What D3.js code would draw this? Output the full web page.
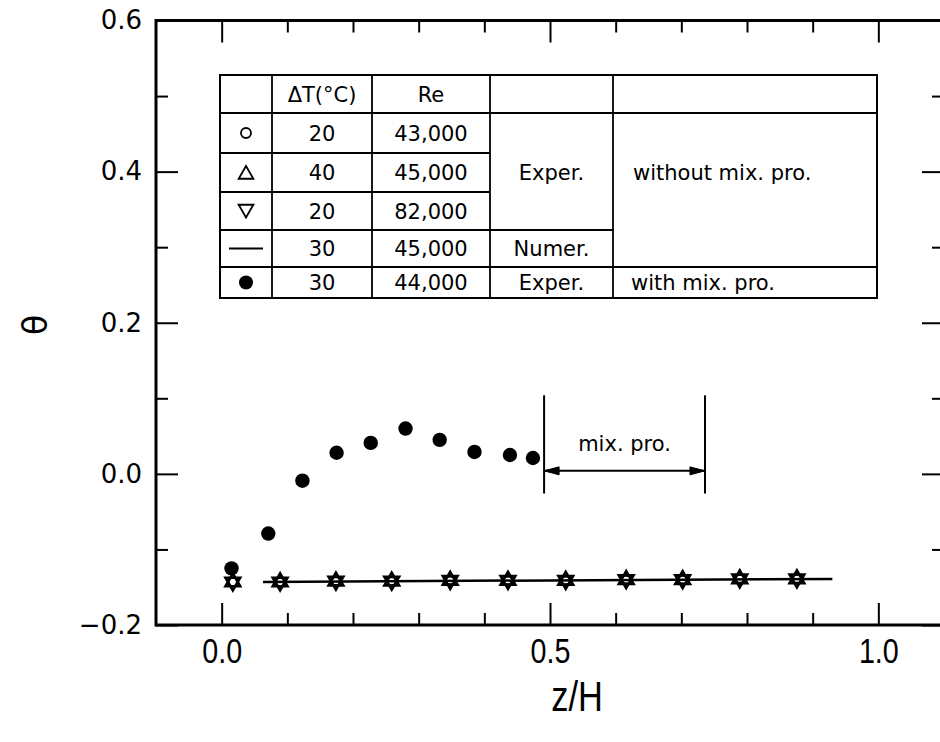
<!DOCTYPE html>
<html>
<head>
<meta charset="utf-8">
<script src="https://cdn.jsdelivr.net/npm/d3@7"></script>
<style>
  html, body { margin: 0; padding: 0; background: #fff; }
  svg { display: block; }
</style>
</head>
<body>
<svg id="chart" width="940" height="742"></svg>
<script>
// ---------------- data ----------------
// open markers (circle / up-triangle / down-triangle superimposed), experiments without mixing promoter
const openX = [0.017, 0.089, 0.174, 0.259, 0.348, 0.436, 0.524, 0.616, 0.702, 0.789, 0.876];
const openY = [-0.143, -0.143, -0.142, -0.142, -0.141, -0.141, -0.141, -0.140, -0.140, -0.139, -0.139];
// numerical result
const numX = [0.063, 0.930];
const numY = [-0.143, -0.139];
// filled dots, experiment with mixing promoter
const filledX = [0.015, 0.071, 0.123, 0.175, 0.227, 0.280, 0.332, 0.385, 0.439, 0.474];
const filledY = [-0.125, -0.079, -0.009, 0.028, 0.041, 0.060, 0.045, 0.029, 0.025, 0.021];
// mixing promoter region
const mixRange = [0.491, 0.736];
const mixBracketY = [0.104, -0.026];
const mixArrowY = 0.004;
const mixLabel = "mix. pro.";
// axes
const xDomain = [-0.1, 1.1];
const yDomain = [-0.2, 0.6];
const xMajor = [0.0, 0.5, 1.0];
const xMinor = [0.1, 0.2, 0.3, 0.4, 0.6, 0.7, 0.8, 0.9];
const yMajor = [-0.2, 0.0, 0.2, 0.4, 0.6];
const yMinor = [-0.1, 0.1, 0.3, 0.5];
const xTitle = "z/H";
const yTitle = "\u03B8";
// legend table
const tableHeader = ["", "\u0394T(\u00B0C)", "Re"];
const tableSymbols = ["circle", "up", "down", "line", "dot"];
const tableDT = ["20", "40", "20", "30", "30"];
const tableRe = ["43,000", "45,000", "82,000", "45,000", "44,000"];

// ---------------- layout ----------------
const svg = d3.select("#chart");
const x = d3.scaleLinear().domain(xDomain).range([156, 944]);
const y = d3.scaleLinear().domain(yDomain).range([625, 20.5]);

const fmt = d => (d < 0 ? "\u2212" : "") + Math.abs(d).toFixed(1);

// frame
svg.append("rect")
  .attr("x", x(xDomain[0])).attr("y", y(yDomain[1]))
  .attr("width", x(xDomain[1]) - x(xDomain[0]))
  .attr("height", y(yDomain[0]) - y(yDomain[1]))
  .attr("fill", "none").attr("stroke", "#000").attr("stroke-width", 3);

function styleAxis(g) {
  g.select(".domain").remove();
  g.selectAll(".tick line").attr("stroke", "#000").attr("stroke-width", 2);
}

// left axis
svg.append("g").attr("transform", `translate(${x(xDomain[0])},0)`)
  .call(d3.axisLeft(y).tickValues(yMajor).tickSize(-22).tickPadding(14).tickFormat(fmt))
  .call(styleAxis)
  .call(g => g.selectAll("text").attr("font-family", "DejaVu Sans").attr("font-size", 26).attr("fill", "#000"));
svg.append("g").attr("transform", `translate(${x(xDomain[0])},0)`)
  .call(d3.axisLeft(y).tickValues(yMinor).tickSize(-12).tickFormat(""))
  .call(styleAxis);
// right axis
svg.append("g").attr("transform", `translate(${x(xDomain[1])},0)`)
  .call(d3.axisRight(y).tickValues(yMajor).tickSize(-22).tickFormat(""))
  .call(styleAxis);
svg.append("g").attr("transform", `translate(${x(xDomain[1])},0)`)
  .call(d3.axisRight(y).tickValues(yMinor).tickSize(-12).tickFormat(""))
  .call(styleAxis);
// bottom axis
svg.append("g").attr("transform", `translate(0,${y(yDomain[0])})`)
  .call(d3.axisBottom(x).tickValues(xMajor).tickSize(-22).tickPadding(13).tickFormat(fmt))
  .call(styleAxis)
  .call(g => g.selectAll("text")
     .attr("font-family", "Liberation Sans, Arial, sans-serif").attr("font-size", 35)
     .attr("transform", "scale(0.82,1)").attr("fill", "#000"));
svg.append("g").attr("transform", `translate(0,${y(yDomain[0])})`)
  .call(d3.axisBottom(x).tickValues(xMinor).tickSize(-12).tickFormat(""))
  .call(styleAxis);
// top axis
svg.append("g").attr("transform", `translate(0,${y(yDomain[1])})`)
  .call(d3.axisTop(x).tickValues(xMajor).tickSize(-22).tickFormat(""))
  .call(styleAxis);
svg.append("g").attr("transform", `translate(0,${y(yDomain[1])})`)
  .call(d3.axisTop(x).tickValues(xMinor).tickSize(-12).tickFormat(""))
  .call(styleAxis);

// axis titles
svg.append("text")
  .attr("transform", "translate(577,711) scale(0.82,1)")
  .attr("text-anchor", "middle")
  .attr("font-family", "Liberation Sans, Arial, sans-serif").attr("font-size", 42)
  .text(xTitle);
svg.append("text")
  .attr("transform", "translate(47,325) rotate(-90)")
  .attr("text-anchor", "middle")
  .attr("font-family", "DejaVu Sans").attr("font-size", 33)
  .text(yTitle);

// ---------------- data marks ----------------
function triPath(cx, cy, R, dir) {
  // dir = 1 apex up, -1 apex down
  const pts = [0, 120, 240].map(a => {
    const t = (a - 90) * Math.PI / 180;
    return [cx + R * Math.cos(t), cy + dir * R * Math.sin(t)];
  });
  return "M" + pts.map(p => p.join(",")).join("L") + "Z";
}

// numerical line
const numData = numX.map((d, i) => [d, numY[i]]);
svg.append("path")
  .attr("d", d3.line().x(d => x(d[0])).y(d => y(d[1]))(numData))
  .attr("fill", "none").attr("stroke", "#000").attr("stroke-width", 2.5);

// open markers
const openData = openX.map((d, i) => [d, openY[i]]);
const og = svg.append("g");
openData.forEach(d => {
  const cx = x(d[0]), cy = y(d[1]);
  og.append("path").attr("d", triPath(cx, cy, 8.5, 1))
    .attr("fill", "none").attr("stroke", "#000").attr("stroke-width", 2.6);
  og.append("path").attr("d", triPath(cx, cy, 8.5, -1))
    .attr("fill", "none").attr("stroke", "#000").attr("stroke-width", 2.6);
  og.append("circle").attr("cx", cx).attr("cy", cy).attr("r", 4.5)
    .attr("fill", "none").attr("stroke", "#000").attr("stroke-width", 2.6);
});

// filled dots
const filledData = filledX.map((d, i) => [d, filledY[i]]);
svg.append("g").selectAll("circle").data(filledData).join("circle")
  .attr("cx", d => x(d[0])).attr("cy", d => y(d[1])).attr("r", 7.2).attr("fill", "#000");

// mixing promoter annotation
const mg = svg.append("g").attr("stroke", "#000").attr("stroke-width", 2);
mixRange.forEach(v => {
  mg.append("line").attr("x1", x(v)).attr("x2", x(v))
    .attr("y1", y(mixBracketY[0])).attr("y2", y(mixBracketY[1]));
});
const ax0 = x(mixRange[0]), ax1 = x(mixRange[1]), ay = y(mixArrowY);
mg.append("line").attr("x1", ax0).attr("x2", ax1).attr("y1", ay).attr("y2", ay);
mg.append("path").attr("d", `M${ax0},${ay}L${ax0 + 15},${ay - 4}L${ax0 + 15},${ay + 4}Z`).attr("fill", "#000").attr("stroke-width", 1);
mg.append("path").attr("d", `M${ax1},${ay}L${ax1 - 15},${ay - 4}L${ax1 - 15},${ay + 4}Z`).attr("fill", "#000").attr("stroke-width", 1);
svg.append("text")
  .attr("x", (ax0 + ax1) / 2).attr("y", ay - 20)
  .attr("text-anchor", "middle")
  .attr("font-family", "DejaVu Sans").attr("font-size", 21)
  .text(mixLabel);

// ---------------- legend table ----------------
const cols = [220, 272, 372, 490, 613, 877];
const rows = [75, 113, 153, 192, 230, 267, 298];
const tg = svg.append("g");
const ln = (x1, y1, x2, y2) => tg.append("line")
  .attr("x1", x1).attr("y1", y1).attr("x2", x2).attr("y2", y2)
  .attr("stroke", "#000").attr("stroke-width", 1.8);
// outer border
tg.append("rect").attr("x", cols[0]).attr("y", rows[0])
  .attr("width", cols[5] - cols[0]).attr("height", rows[6] - rows[0])
  .attr("fill", "#fff").attr("stroke", "#000").attr("stroke-width", 2);
// vertical lines
cols.slice(1, 5).forEach(c => ln(c, rows[0], c, rows[6]));
// horizontal lines
ln(cols[0], rows[1], cols[5], rows[1]);
ln(cols[0], rows[2], cols[3], rows[2]);
ln(cols[0], rows[3], cols[3], rows[3]);
ln(cols[0], rows[4], cols[4], rows[4]);
ln(cols[0], rows[5], cols[5], rows[5]);

const cellText = (txt, cx, cy, anchor) => tg.append("text")
  .attr("x", cx).attr("y", cy).attr("dy", "0.36em")
  .attr("text-anchor", anchor || "middle")
  .attr("font-family", "DejaVu Sans").attr("font-size", 21).attr("fill", "#000")
  .text(txt);

const mid = (a, b) => (a + b) / 2;
cellText(tableHeader[1], mid(cols[1], cols[2]), mid(rows[0], rows[1]));
cellText(tableHeader[2], mid(cols[2], cols[3]), mid(rows[0], rows[1]));
tableDT.forEach((t, i) => cellText(t, mid(cols[1], cols[2]), mid(rows[i + 1], rows[i + 2])));
tableRe.forEach((t, i) => cellText(t, mid(cols[2], cols[3]), mid(rows[i + 1], rows[i + 2])));
cellText("Exper.", mid(cols[3], cols[4]), mid(rows[2], rows[3]));
cellText("Numer.", mid(cols[3], cols[4]), mid(rows[4], rows[5]));
cellText("Exper.", mid(cols[3], cols[4]), mid(rows[5], rows[6]));
cellText("without mix. pro.", cols[4] + 20, mid(rows[2], rows[3]), "start");
cellText("with mix. pro.", cols[4] + 18, mid(rows[5], rows[6]), "start");

// legend symbols
const sx = mid(cols[0], cols[1]);
tableSymbols.forEach((s, i) => {
  const cy = mid(rows[i + 1], rows[i + 2]);
  if (s === "circle") {
    tg.append("circle").attr("cx", sx).attr("cy", cy).attr("r", 5)
      .attr("fill", "none").attr("stroke", "#000").attr("stroke-width", 1.8);
  } else if (s === "up" || s === "down") {
    tg.append("path").attr("d", triPath(sx, cy + (s === "up" ? 2 : -2), 8.5, s === "up" ? 1 : -1))
      .attr("fill", "none").attr("stroke", "#000").attr("stroke-width", 1.8);
  } else if (s === "line") {
    tg.append("line").attr("x1", sx - 17).attr("x2", sx + 17).attr("y1", cy).attr("y2", cy)
      .attr("stroke", "#000").attr("stroke-width", 2);
  } else {
    tg.append("circle").attr("cx", sx).attr("cy", cy).attr("r", 7).attr("fill", "#000");
  }
});
</script>
</body>
</html>
